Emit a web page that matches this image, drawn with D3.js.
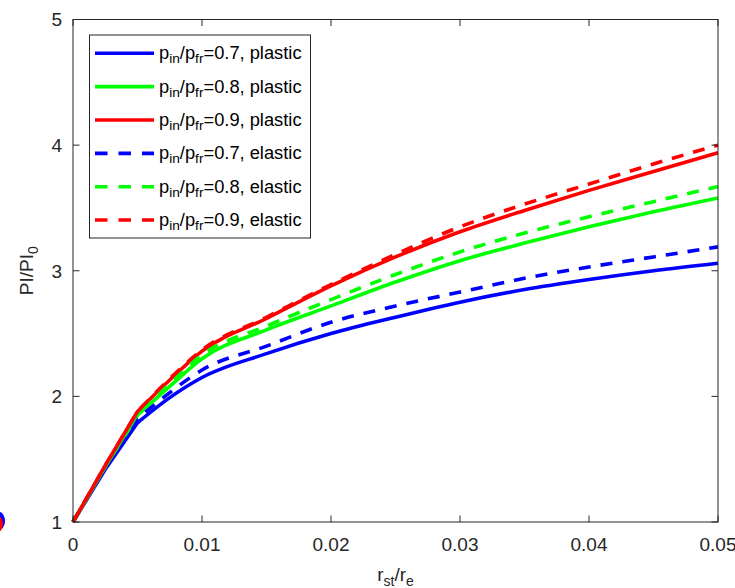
<!DOCTYPE html>
<html>
<head>
<meta charset="utf-8">
<script src="https://cdn.jsdelivr.net/npm/d3@7"></script>
<style>
  html, body { margin: 0; padding: 0; background: #fff; overflow: hidden; }
  svg { display: block; font-family: "Liberation Sans", Arial, Helvetica, sans-serif; }
</style>
</head>
<body>
<svg id="chart" width="735" height="588"></svg>
<script>
// ---- data ----
const xVals = [0, 0.0025, 0.005, 0.0075, 0.01, 0.015, 0.02, 0.025, 0.03, 0.035, 0.04, 0.045, 0.05];
const plastic07 = [1, 1.42, 1.79, 1.99, 2.15, 2.34, 2.50, 2.63, 2.75, 2.85, 2.93, 3.00, 3.06];
const plastic08 = [1, 1.44, 1.85, 2.08, 2.30, 2.53, 2.72, 2.91, 3.08, 3.22, 3.35, 3.47, 3.58];
const plastic09 = [1, 1.45, 1.88, 2.13, 2.36, 2.62, 2.88, 3.11, 3.31, 3.48, 3.64, 3.79, 3.94];
const elastic07 = [1, 1.43, 1.82, 2.03, 2.21, 2.40, 2.59, 2.72, 2.83, 2.94, 3.03, 3.11, 3.19];
const elastic08 = [1, 1.44, 1.86, 2.10, 2.33, 2.56, 2.77, 2.97, 3.15, 3.30, 3.43, 3.55, 3.67];
const elastic09 = [1, 1.45, 1.88, 2.14, 2.37, 2.63, 2.89, 3.13, 3.35, 3.53, 3.69, 3.85, 4.00];
const ratios = ["0.7", "0.8", "0.9", "0.7", "0.8", "0.9"];
const models = ["plastic", "plastic", "plastic", "elastic", "elastic", "elastic"];
const xTicks = [0, 0.01, 0.02, 0.03, 0.04, 0.05];
const yTicks = [1, 2, 3, 4, 5];

const seriesList = [plastic07, plastic08, plastic09, elastic07, elastic08, elastic09];
const colors = ["#0000ff", "#00ff00", "#ff0000", "#0000ff", "#00ff00", "#ff0000"];
const dashed = [false, false, false, true, true, true];

// ---- layout ----
const L = 73, R = 718, T = 19.5, B = 522;
const axisColor = "#262626";
const svg = d3.select("#chart");

const x = d3.scaleLinear().domain([0, 0.05]).range([L, R]);
const y = d3.scaleLinear().domain([1, 5]).range([B, T]);

// stray clipped glyph at left edge
svg.append("ellipse").attr("cx", -1).attr("cy", 521).attr("rx", 6).attr("ry", 9).attr("fill", "#0000ff");
svg.append("ellipse").attr("cx", -2.5).attr("cy", 524).attr("rx", 5.5).attr("ry", 8).attr("fill", "#ff0000");

// series lines: straight segment up to the kink (index 2), smooth afterwards
const KINK = 2;
const lineLin = d3.line().x(d => x(d[0])).y(d => y(d[1])).curve(d3.curveLinear);
const lineSmooth = d3.line().x(d => x(d[0])).y(d => y(d[1])).curve(d3.curveMonotoneX);

seriesList.forEach((s, k) => {
  const pts = s.map((v, i) => [xVals[i], v]);
  const p1 = lineLin(pts.slice(0, KINK + 1));
  let p2 = lineSmooth(pts.slice(KINK));
  p2 = p2.replace(/^M[^A-Za-z]*/, "");
  svg.append("path")
    .attr("d", p1 + p2)
    .attr("fill", "none")
    .attr("stroke", colors[k])
    .attr("stroke-width", 3.6)
    .attr("stroke-linejoin", "round")
    .attr("stroke-dasharray", dashed[k] ? "12,10" : null);
});

// axes box
const tickLen = 6.5;
svg.append("rect")
  .attr("x", L).attr("y", T).attr("width", R - L).attr("height", B - T)
  .attr("fill", "none").attr("stroke", axisColor).attr("stroke-width", 1);

const g = svg.append("g");
xTicks.forEach(t => {
  const px = x(t);
  g.append("line").attr("x1", px).attr("x2", px).attr("y1", B).attr("y2", B - tickLen).attr("stroke", axisColor);
  g.append("line").attr("x1", px).attr("x2", px).attr("y1", T).attr("y2", T + tickLen).attr("stroke", axisColor);
  g.append("text").attr("x", px).attr("y", 551).attr("text-anchor", "middle")
    .attr("font-size", 19).attr("fill", axisColor).text(d3.format("")(t));
});
yTicks.forEach(t => {
  const py = y(t);
  g.append("line").attr("x1", L).attr("x2", L + tickLen).attr("y1", py).attr("y2", py).attr("stroke", axisColor);
  g.append("line").attr("x1", R).attr("x2", R - tickLen).attr("y1", py).attr("y2", py).attr("stroke", axisColor);
  g.append("text").attr("x", 62).attr("y", py).attr("dy", "0.36em").attr("text-anchor", "end")
    .attr("font-size", 19).attr("fill", axisColor).text(t);
});

// axis labels
const yl = svg.append("text")
  .attr("transform", `translate(33,${(T + B) / 2}) rotate(-90)`)
  .attr("text-anchor", "middle").attr("font-size", 19).attr("fill", axisColor);
yl.append("tspan").text("PI/PI");
yl.append("tspan").attr("font-size", 14).attr("dy", 5).text("0");

const xl = svg.append("text")
  .attr("x", (L + R) / 2).attr("y", 581)
  .attr("text-anchor", "middle").attr("font-size", 19).attr("fill", axisColor);
xl.append("tspan").text("r");
xl.append("tspan").attr("font-size", 14).attr("dy", 5).text("st");
xl.append("tspan").attr("dy", -5).text("/r");
xl.append("tspan").attr("font-size", 14).attr("dy", 5).text("e");

// legend
const lx = 89.5, ly = 35, lw = 221, lh = 203;
svg.append("rect").attr("x", lx).attr("y", ly).attr("width", lw).attr("height", lh)
  .attr("fill", "#fff").attr("stroke", axisColor).attr("stroke-width", 1);
ratios.forEach((r, k) => {
  const cy = 53.3 + k * 33.35;
  svg.append("line").attr("x1", 95).attr("x2", 154).attr("y1", cy).attr("y2", cy)
    .attr("stroke", colors[k]).attr("stroke-width", 3.6)
    .attr("stroke-dasharray", dashed[k] ? "12.5,11" : null);
  const t = svg.append("text").attr("x", 159).attr("y", cy + 6)
    .attr("font-size", 18.3).attr("fill", "#000");
  t.append("tspan").text("p");
  t.append("tspan").attr("font-size", 13.7).attr("dy", 4).text("in");
  t.append("tspan").attr("dy", -4).text("/p");
  t.append("tspan").attr("font-size", 13.7).attr("dy", 4).text("fr");
  t.append("tspan").attr("dy", -4).text("=" + r + ", " + models[k]);
});
</script>
</body>
</html>
